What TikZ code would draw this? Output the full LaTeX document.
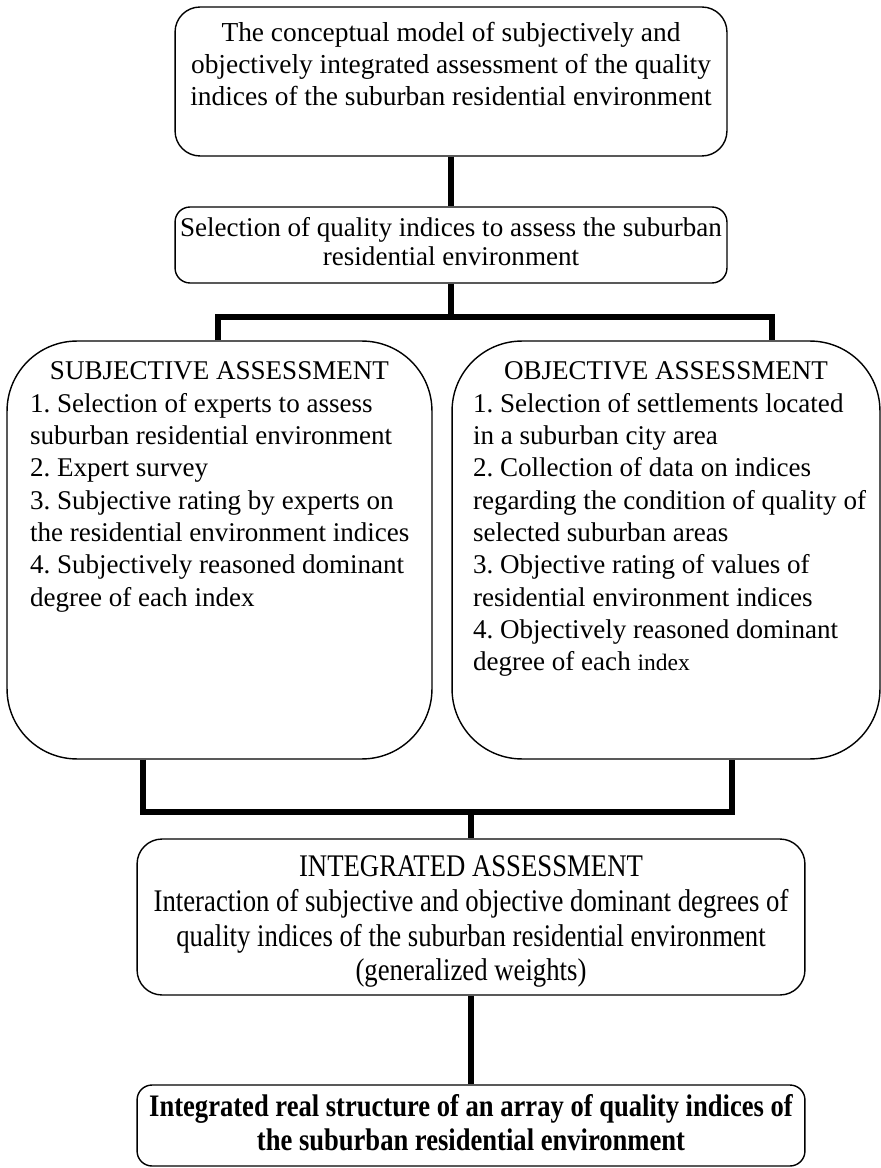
\documentclass[tikz,border=0pt]{standalone}
\usepackage{fontspec}
\setmainfont{Liberation Serif}
\newfontfamily\narrowfont[FakeStretch=0.85]{Liberation Serif}

\begin{document}
\frenchspacing
\begin{tikzpicture}[x=0.02cm, y=-0.02cm,
	box/.style = {draw, line width=0.8pt, inner sep=0pt, font=\fontsize{15.4pt}{18.4pt}\selectfont},
	link/.style = {line width=3pt}]

	\useasboundingbox (0,0) rectangle (881,1168);

	\node[box, rounded corners=0.5cm] (model) at (451,81.5) {\parbox[c][2.98cm][t]{11.04cm}{\vspace*{0.3cm}\centering\fontsize{15.6pt}{18.2pt}\selectfont
		The conceptual model of subjectively and\\
		objectively integrated assessment of the quality\\
		indices of the suburban residential environment}};

	\node[box, rounded corners=0.3cm] (select) at (451,245) {\parbox[c][1.52cm][t]{11.04cm}{\vspace*{0.2cm}\centering\fontsize{15.4pt}{17pt}\selectfont
		Selection of quality indices to assess the suburban\\
		residential environment}};

	\node[box, rounded corners=1.4cm] (subj) at (219.5,550) {\parbox[c][8.36cm][t]{8.5cm}{\vspace*{0.42cm}
		{\centering SUBJECTIVE ASSESSMENT\par}
		\raggedright\leftskip=0.46cm
		1. Selection of experts to assess\\
		suburban residential environment\\
		2. Expert survey\\
		3. Subjective rating by experts on\\
		the residential environment indices\\
		4. Subjectively reasoned dominant\\
		degree of each index}};

	\node[box, rounded corners=1.4cm] (obj) at (666,550) {\parbox[c][8.36cm][t]{8.56cm}{\vspace*{0.42cm}
		{\centering OBJECTIVE ASSESSMENT\par}
		\raggedright\leftskip=0.42cm
		1. Selection of settlements located\\
		in a suburban city area\\
		2. Collection of data on indices\\
		regarding the condition of quality of\\
		selected suburban areas\\
		3. Objective rating of values of\\
		residential environment indices\\
		4. Objectively reasoned dominant\\
		degree of each {\fontsize{13.4pt}{18.4pt}\selectfont index}}};

	\node[box, rounded corners=0.5cm] (integ) at (471,917) {\parbox[c][3.12cm][t]{13.36cm}{\vspace*{0.34cm}\centering\narrowfont\fontsize{17.9pt}{19.7pt}\selectfont
		INTEGRATED ASSESSMENT\\
		Interaction of subjective and objective dominant degrees of\\
		quality indices of the suburban residential environment\\
		(generalized weights)}};

	\node[box, rounded corners=0.3cm] (result) at (471,1125.5) {\parbox[c][1.62cm][t]{13.36cm}{\vspace*{0.18cm}\centering\narrowfont\bfseries\fontsize{17.8pt}{19.7pt}\selectfont
		Integrated real structure of an array of quality indices of\\
		the suburban residential environment}};

	% branching points
	\coordinate (splitL) at (218,317);
	\coordinate (splitR) at (772,317);
	\coordinate (joinL) at (143,812);
	\coordinate (joinR) at (732,812);

	\draw[link] (model.south) -- (select.north);
	\draw[link] (select.south) -- (select.south |- splitL);
	\draw[link] (splitL |- subj.north) -- (splitL) -- (splitR) -- (splitR |- obj.north);
	\draw[link] (joinL |- subj.south) -- (joinL) -- (joinR) -- (joinR |- obj.south);
	\draw[link] (integ.north |- joinL) -- (integ.north);
	\draw[link] (integ.south) -- (result.north);

\end{tikzpicture}
\end{document}
